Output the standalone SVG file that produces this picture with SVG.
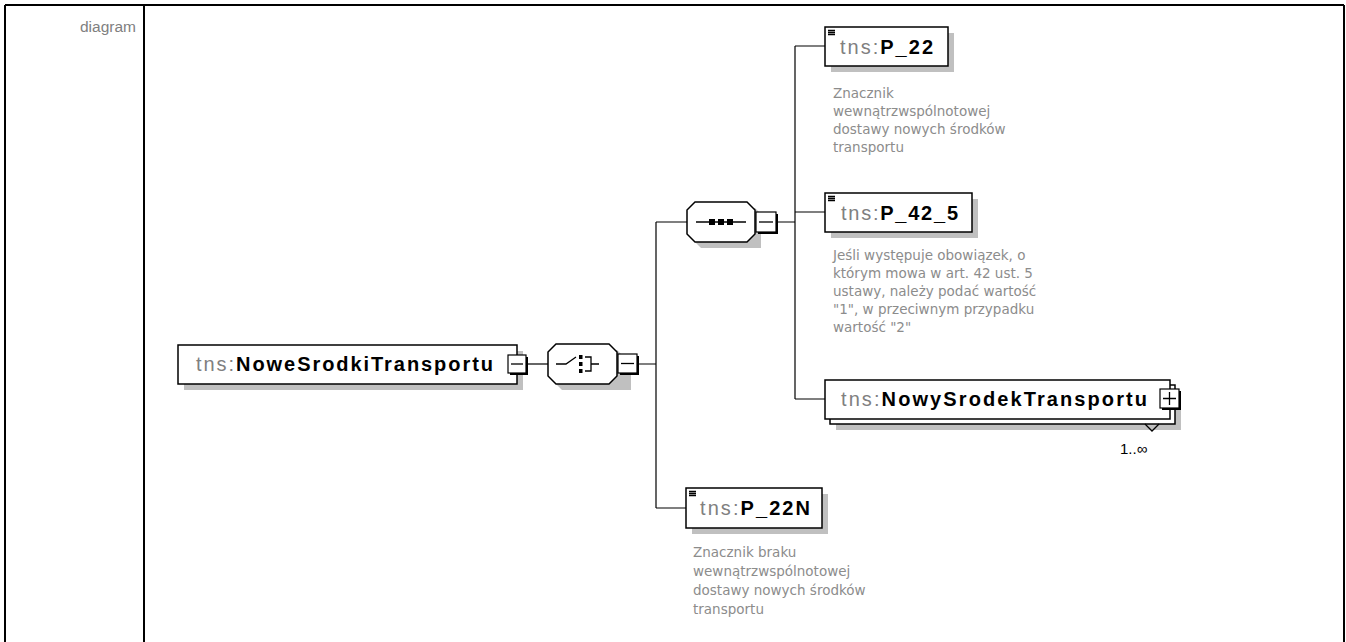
<svg xmlns="http://www.w3.org/2000/svg" width="1346" height="642" viewBox="0 0 1346 642">
<defs>
<style>
.frame{fill:none;stroke:#000;stroke-width:2}
.lbl{font-family:"Liberation Sans",Arial,sans-serif;font-size:15.5px;fill:#808080}
.box{fill:#fff;stroke:#000;stroke-width:1.5}
.shadow{fill:#c0c0c0}
.conn{fill:none;stroke:#000;stroke-width:1.2}
.name{font-family:"Liberation Sans",Arial,sans-serif;font-size:20px}
.ns{fill:#808080}
.loc{fill:#000;font-weight:bold}
.desc{font-family:"DejaVu Sans","Liberation Sans",sans-serif;font-size:13.5px;fill:#8c8c8c}
.btn{fill:#fff;stroke:#000;stroke-width:1.2}
.btnsh{fill:#000}
.sym{stroke:#000;stroke-width:1.3;fill:none}
.occ{font-family:"Liberation Sans",Arial,sans-serif;font-size:15px;fill:#000}
</style>
</defs>
<rect width="1346" height="642" fill="#fff"/>
<g id="frame">
<line class="frame" x1="5" y1="5" x2="1344" y2="5"/>
<line class="frame" x1="5" y1="5" x2="5" y2="642"/>
<line class="frame" x1="144" y1="5" x2="144" y2="642"/>
<line class="frame" x1="1344" y1="5" x2="1344" y2="642"/>
<text class="lbl" x="136" y="32" text-anchor="end">diagram</text>
</g>
<g id="connectors">
<path class="conn" d="M527 364H548"/>
<path class="conn" d="M637 364H656M656 222V508M656 222H687M656 508H686"/>
<path class="conn" d="M776 222H795M795 46V399M795 46H825M795 212H825M795 399H825"/>
</g>
<g id="NoweSrodkiTransportu">
<rect class="shadow" x="184" y="351" width="339" height="39"/>
<rect class="box" x="178" y="345" width="339" height="39"/>
<text class="name" x="196" y="371" textLength="297" lengthAdjust="spacing"><tspan class="ns">tns:</tspan><tspan class="loc">NoweSrodkiTransportu</tspan></text>
<rect class="btnsh" x="510" y="357" width="18" height="18"/>
<rect class="btn" x="508" y="355" width="18" height="18"/>
<line class="sym" x1="511" y1="364" x2="523" y2="364"/>
</g>
<g id="choice">
<path class="shadow" d="M562 350H617L631 364V390H562L554 382V358Z"/>
<path class="box" d="M556 344H609L617 352V376L609 384H556L548 376V352Z"/>
<path class="sym" d="M556 364H566L576 357M585 357H591V371H585M591 364H599"/>
<rect x="579" y="355" width="3.5" height="4" fill="#000"/>
<rect x="579" y="362" width="3.5" height="4" fill="#000"/>
<rect x="579" y="369" width="3.5" height="4" fill="#000"/>
<rect class="btnsh" x="620" y="356" width="19" height="19"/>
<rect class="btn" x="618" y="354" width="19" height="19"/>
<line class="sym" x1="621" y1="363.5" x2="634" y2="363.5"/>
</g>
<g id="sequence">
<path class="shadow" d="M701 208H755L761 214V248H701L693 240V216Z"/>
<path class="box" d="M695 202H747L755 210V234L747 242H695L687 234V210Z"/>
<line class="sym" x1="696" y1="222" x2="746" y2="222"/>
<rect x="709" y="219" width="6" height="6" fill="#000"/>
<rect x="718" y="219" width="6" height="6" fill="#000"/>
<rect x="727" y="219" width="6" height="6" fill="#000"/>
<rect class="btnsh" x="758" y="214" width="20" height="20"/>
<rect class="btn" x="756" y="212" width="20" height="20"/>
<line class="sym" x1="759" y1="222" x2="773" y2="222"/>
</g>
<g id="P_22">
<rect class="shadow" x="831" y="33" width="123" height="39"/>
<rect class="box" x="825" y="27" width="123" height="39"/>
<path class="sym" d="M828 30.5H835M828 32.5H835M828 34.5H835" stroke-width="1"/>
<text class="name" x="840" y="54" textLength="93" lengthAdjust="spacing"><tspan class="ns">tns:</tspan><tspan class="loc">P_22</tspan></text>
<text class="desc"><tspan x="833" y="98">Znacznik</tspan><tspan x="833" y="116">wewnątrzwspólnotowej</tspan><tspan x="833" y="134">dostawy nowych środków</tspan><tspan x="833" y="152">transportu</tspan></text>
</g>
<g id="P_42_5">
<rect class="shadow" x="831" y="199" width="147" height="39"/>
<rect class="box" x="825" y="193" width="147" height="39"/>
<path class="sym" d="M828 196.5H835M828 198.5H835M828 200.5H835" stroke-width="1"/>
<text class="name" x="841" y="220" textLength="117" lengthAdjust="spacing"><tspan class="ns">tns:</tspan><tspan class="loc">P_42_5</tspan></text>
<text class="desc"><tspan x="833" y="260">Jeśli występuje obowiązek, o</tspan><tspan x="833" y="278">którym mowa w art. 42 ust. 5</tspan><tspan x="833" y="296">ustawy, należy podać wartość</tspan><tspan x="833" y="314">"1", w przeciwnym przypadku</tspan><tspan x="833" y="332">wartość "2"</tspan></text>
</g>
<g id="NowySrodekTransportu">
<rect class="shadow" x="836" y="391" width="345" height="39"/>
<rect class="box" x="830" y="385" width="345" height="39"/>
<rect class="box" x="825" y="380" width="345" height="39"/>
<text class="name" x="841" y="406" textLength="306" lengthAdjust="spacing"><tspan class="ns">tns:</tspan><tspan class="loc">NowySrodekTransportu</tspan></text>
<rect class="btnsh" x="1162" y="391" width="19" height="19"/>
<rect class="btn" x="1160" y="389" width="19" height="19"/>
<path class="sym" d="M1163 398.5H1176M1169.5 392V405"/>
<path class="sym" d="M1145 424L1152 431L1159 424" stroke-width="1"/>
<text class="occ" x="1120" y="454">1..∞</text>
</g>
<g id="P_22N">
<rect class="shadow" x="692" y="494" width="136" height="40"/>
<rect class="box" x="686" y="488" width="136" height="40"/>
<path class="sym" d="M689 491.5H696M689 493.5H696M689 495.5H696" stroke-width="1"/>
<text class="name" x="700" y="515" textLength="110" lengthAdjust="spacing"><tspan class="ns">tns:</tspan><tspan class="loc">P_22N</tspan></text>
<text class="desc"><tspan x="693" y="557">Znacznik braku</tspan><tspan x="693" y="576">wewnątrzwspólnotowej</tspan><tspan x="693" y="595">dostawy nowych środków</tspan><tspan x="693" y="614">transportu</tspan></text>
</g>
</svg>
